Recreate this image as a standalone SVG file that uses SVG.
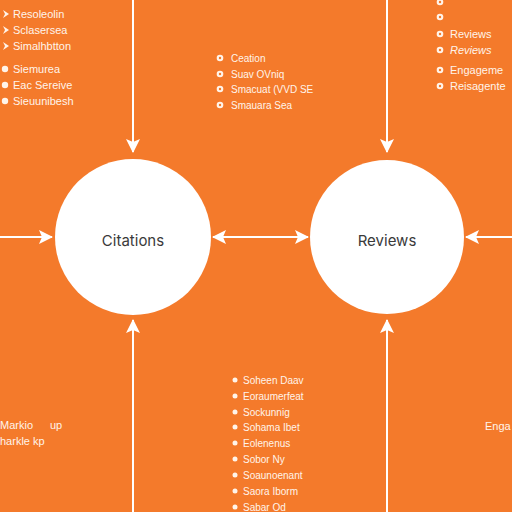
<svg xmlns="http://www.w3.org/2000/svg" width="512" height="512" viewBox="0 0 512 512">
<defs>
<marker id="ah" viewBox="0 0 14 14" refX="13" refY="7" markerWidth="14" markerHeight="14" markerUnits="userSpaceOnUse" orient="auto-start-reverse">
<path d="M0,0 L14,7 L0,14 L3,7 Z" fill="#FFFFFF"/>
</marker>
<style>
.bg{fill:#F47A2B}
.node{fill:#FFFFFF}
.lbl{font-family:Inter,"Open Sans",sans-serif;font-size:15px;fill:#3A3A3A;text-anchor:middle;dominant-baseline:central}
.conn{stroke:#FFFFFF;stroke-width:2;fill:none}
.t{font-family:"Liberation Sans",Arial,sans-serif;font-size:10px;fill:#FFF4EA;dominant-baseline:central}
.tl{font-size:11px}
.b{fill:#FFF4EA}
.bh{fill:#F47A2B}
</style>
</defs>
<rect class="bg" x="0" y="0" width="512" height="512"/>
<g id="connectors">
<line class="conn" x1="133" y1="0" x2="133" y2="152" marker-end="url(#ah)"/>
<line class="conn" x1="133" y1="512" x2="133" y2="320" marker-end="url(#ah)"/>
<line class="conn" x1="0" y1="237" x2="52" y2="237" marker-end="url(#ah)"/>
<line class="conn" x1="213" y1="237" x2="308" y2="237" marker-start="url(#ah)" marker-end="url(#ah)"/>
<line class="conn" x1="387" y1="0" x2="387" y2="152" marker-end="url(#ah)"/>
<line class="conn" x1="387" y1="512" x2="387" y2="320" marker-end="url(#ah)"/>
<line class="conn" x1="512" y1="237" x2="466" y2="237" marker-end="url(#ah)"/>
</g>
<g id="node-citations">
<circle class="node" cx="133" cy="237" r="78"/>
<text class="lbl" x="133" y="240">Citations</text>
</g>
<g id="node-reviews">
<circle class="node" cx="387" cy="237" r="77"/>
<text class="lbl" x="387" y="240">Reviews</text>
</g>
<g id="list-top-left">
<path class="b" d="M3,10 L9,14 L3,18 L5,14 Z"/><text class="t tl" x="13" y="14">Resoleolin</text>
<path class="b" d="M3,26 L9,30 L3,34 L5,30 Z"/><text class="t tl" x="13" y="30">Sclasersea</text>
<path class="b" d="M3,42 L9,46 L3,50 L5,46 Z"/><text class="t tl" x="13" y="46">Simalhbtton</text>
<circle class="b" cx="5" cy="69" r="3.2"/><text class="t tl" x="13" y="69">Siemurea</text>
<circle class="b" cx="5" cy="85" r="3.2"/><text class="t tl" x="13" y="85">Eac Sereive</text>
<circle class="b" cx="5" cy="101" r="3.2"/><text class="t tl" x="13" y="101">Sieuunibesh</text>
</g>
<g id="list-top-middle">
<circle class="b" cx="220" cy="58" r="3.3"/><circle class="bh" cx="220" cy="58" r="1.2"/><text class="t" x="231" y="58">Ceation</text>
<circle class="b" cx="220" cy="74" r="3.3"/><circle class="bh" cx="220" cy="74" r="1.2"/><text class="t" x="231" y="74">Suav OVniq</text>
<circle class="b" cx="220" cy="89" r="3.3"/><circle class="bh" cx="220" cy="89" r="1.2"/><text class="t" x="231" y="89">Smacuat (VVD SE</text>
<circle class="b" cx="220" cy="105" r="3.3"/><circle class="bh" cx="220" cy="105" r="1.2"/><text class="t" x="231" y="105">Smauara Sea</text>
</g>
<g id="list-top-right">
<circle class="b" cx="440" cy="2" r="3.3"/><circle class="bh" cx="440" cy="2" r="1.2"/>
<circle class="b" cx="440" cy="17" r="3.3"/><circle class="bh" cx="440" cy="17" r="1.2"/>
<circle class="b" cx="440" cy="34" r="3.3"/><circle class="bh" cx="440" cy="34" r="1.2"/><text class="t tl" x="450" y="34">Reviews</text>
<circle class="b" cx="440" cy="50" r="3.3"/><circle class="bh" cx="440" cy="50" r="1.2"/><text class="t tl" x="450" y="50" font-style="italic">Reviews</text>
<circle class="b" cx="440" cy="70" r="3.3"/><circle class="bh" cx="440" cy="70" r="1.2"/><text class="t tl" x="450" y="70">Engageme</text>
<circle class="b" cx="440" cy="86" r="3.3"/><circle class="bh" cx="440" cy="86" r="1.2"/><text class="t tl" x="450" y="86">Reisagente</text>
</g>
<g id="list-bottom-middle">
<circle class="b" cx="235" cy="380" r="2.5"/><text class="t" x="243" y="380">Soheen Daav</text>
<circle class="b" cx="235" cy="396" r="2.5"/><text class="t" x="243" y="396">Eoraumerfeat</text>
<circle class="b" cx="235" cy="412" r="2.5"/><text class="t" x="243" y="412">Sockunnig</text>
<circle class="b" cx="235" cy="427" r="2.5"/><text class="t" x="243" y="427">Sohama Ibet</text>
<circle class="b" cx="235" cy="443" r="2.5"/><text class="t" x="243" y="443">Eolenenus</text>
<circle class="b" cx="235" cy="459" r="2.5"/><text class="t" x="243" y="459">Sobor Ny</text>
<circle class="b" cx="235" cy="475" r="2.5"/><text class="t" x="243" y="475">Soaunoenant</text>
<circle class="b" cx="235" cy="491" r="2.5"/><text class="t" x="243" y="491">Saora Iborm</text>
<circle class="b" cx="235" cy="507" r="2.5"/><text class="t" x="243" y="507">Sabar Od</text>
</g>
<g id="text-bottom-left">
<text class="t tl" x="0" y="425">Markio</text>
<text class="t tl" x="50" y="425">up</text>
<text class="t tl" x="0" y="441">harkle kp</text>
</g>
<g id="text-bottom-right">
<text class="t tl" x="485" y="426">Enga</text>
</g>
</svg>
